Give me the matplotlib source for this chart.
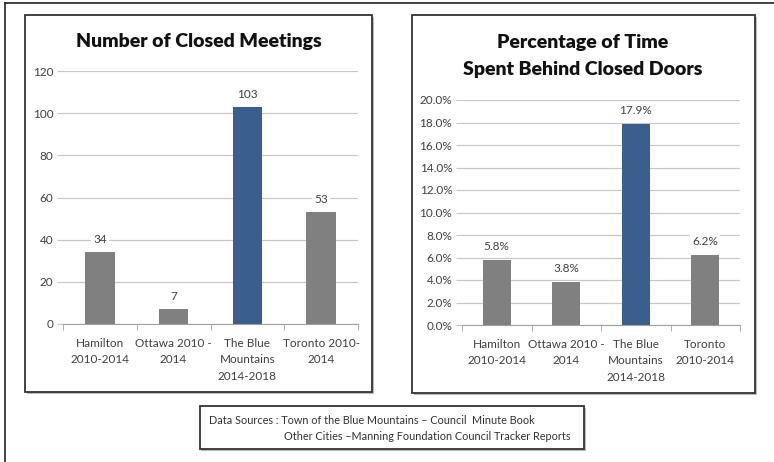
import matplotlib.pyplot as plt
from matplotlib.patches import Rectangle
from matplotlib.lines import Line2D

plt.rcParams['font.family'] = ['Lato', 'DejaVu Sans']

cats_left = ['Hamilton\n2010-2014', 'Ottawa 2010 -\n2014', 'The Blue\nMountains\n2014-2018', 'Toronto 2010-\n2014']
cats_right = ['Hamilton\n2010-2014', 'Ottawa 2010 -\n2014', 'The Blue\nMountains\n2014-2018', 'Toronto\n2010-2014']
meetings = [34, 7, 103, 53]
pct_time = [5.8, 3.8, 17.9, 6.2]
bar_colors = ['#808080', '#808080', '#3a5f8f', '#808080']

fig = plt.figure(figsize=(7.74, 4.62), dpi=100)
W, H = 774, 462


def px(x0, y0, x1, y1):
    # pixel box (top-left origin) -> figure fraction rect
    return [x0 / W, 1 - y1 / H, (x1 - x0) / W, (y1 - y0) / H]


# outer frame: top and left lines only
fig.add_artist(Line2D([5 / W, 1], [1 - 3 / H, 1 - 3 / H], color='#222222', lw=1.2, zorder=-3))
fig.add_artist(Line2D([5 / W, 5 / W], [0, 1 - 3 / H], color='#222222', lw=1.2, zorder=-3))

# panel boxes
for x0, y0, x1, y1 in [(25, 15, 372, 392), (412, 15, 755, 393), (200, 406, 584, 449)]:
    r = px(x0, y0, x1, y1)
    fig.add_artist(Rectangle((r[0] + 1.5 / W, r[1] - 1.5 / H), r[2], r[3], transform=fig.transFigure,
                             facecolor='#bbbbbb', edgecolor='none', zorder=-2))
    fig.add_artist(Rectangle((r[0], r[1]), r[2], r[3], transform=fig.transFigure,
                             facecolor='white', edgecolor='#333333', lw=1.3, zorder=-1))


def style(ax, ymax, step, fmt):
    ax.set_ylim(0, ymax)
    ax.set_xlim(-0.5, 3.5)
    ax.set_yticks([i * step for i in range(int(round(ymax / step)) + 1)])
    ax.set_yticklabels([fmt(v) for v in ax.get_yticks()])
    ax.grid(axis='y', color='#c8c8c8', lw=0.9)
    ax.set_axisbelow(True)
    for s in ['top', 'right', 'left']:
        ax.spines[s].set_visible(False)
    ax.spines['bottom'].set_color('#a0a0a0')
    ax.tick_params(axis='y', length=4, color='#c8c8c8', labelsize=8.5, labelcolor='#404040', pad=3)
    ax.tick_params(axis='x', length=0, labelsize=8.5, labelcolor='#404040', pad=10)
    ax.set_xticks([-0.5, 0.5, 1.5, 2.5, 3.5], minor=True)
    ax.tick_params(axis='x', which='minor', length=4, color='#a0a0a0')
    ax.set_facecolor('none')


ax1 = fig.add_axes(px(63, 71, 358, 324))
ax1.bar(range(4), meetings, width=0.4, color=bar_colors, zorder=2)
style(ax1, 120, 20, lambda v: f'{v:.0f}')
ax1.set_xticks(range(4))
ax1.set_xticklabels(cats_left, linespacing=1.6)
for i, v in enumerate(meetings):
    ax1.text(i, v + 6, f'{v}', ha='center', va='center', fontsize=8.5, color='#404040',
             bbox=dict(facecolor='white', edgecolor='none', pad=1.5), zorder=3)
fig.text(199 / W, 1 - 42 / H, 'Number of Closed Meetings', ha='center', va='center',
         fontsize=14, fontweight='heavy', color='#111111')

ax2 = fig.add_axes(px(462, 100, 740, 325))
ax2.bar(range(4), pct_time, width=0.4, color=bar_colors, zorder=2)
style(ax2, 20, 2, lambda v: f'{v:.1f}%')
ax2.set_xticks(range(4))
ax2.set_xticklabels(cats_right, linespacing=1.6)
for i, v in enumerate(pct_time):
    ax2.text(i, v + 1.2, f'{v:.1f}%', ha='center', va='center', fontsize=8.5, color='#404040',
             bbox=dict(facecolor='white', edgecolor='none', pad=1.5), zorder=3)
fig.text(583 / W, 1 - 56 / H, 'Percentage of Time\nSpent Behind Closed Doors', ha='center', va='center',
         fontsize=14, fontweight='heavy', color='#111111', linespacing=1.65)

fig.text(209 / W, 1 - 420 / H, 'Data Sources : Town of the Blue Mountains \u2013 Council  Minute Book',
         ha='left', va='center', fontsize=7.8, color='#333333')
fig.text(284 / W, 1 - 437 / H, 'Other Cities \u2013Manning Foundation Council Tracker Reports',
         ha='left', va='center', fontsize=7.8, color='#333333')

fig.savefig('out.png', dpi=100)
